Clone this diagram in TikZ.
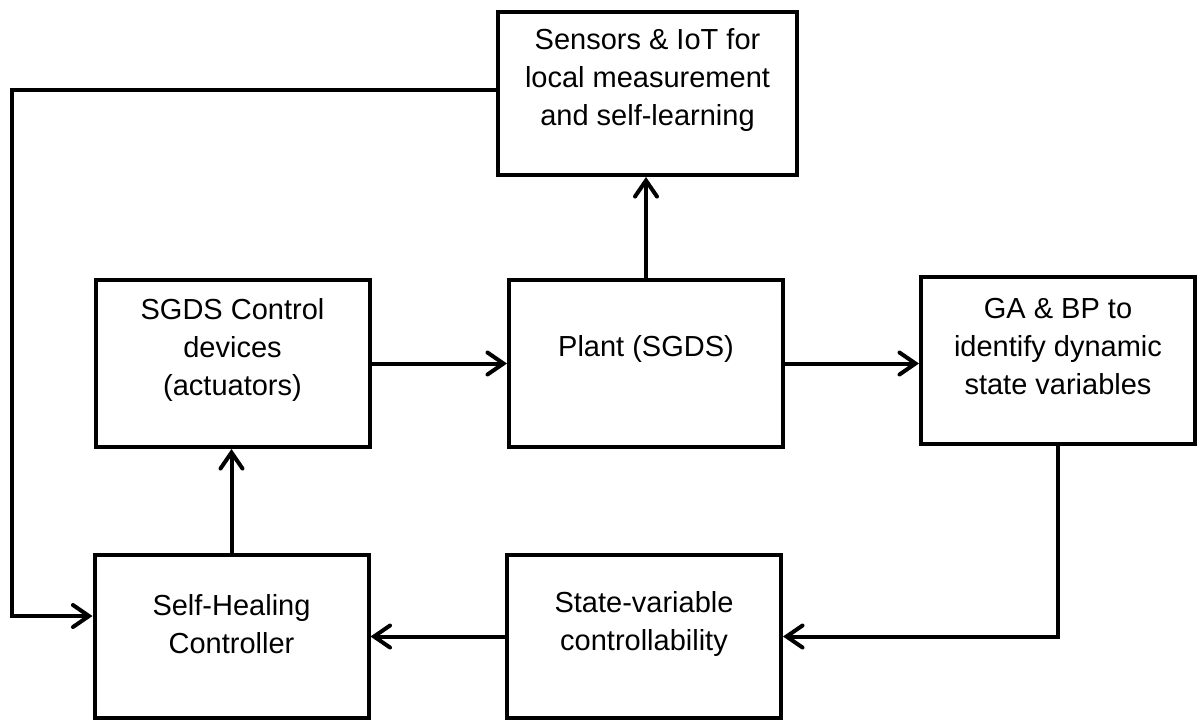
\documentclass[tikz,border=0pt]{standalone}
\usepackage{fontspec}
\setmainfont{Liberation Sans}
\usetikzlibrary{arrows.meta}

\begin{document}
\begin{tikzpicture}[x=0.5pt,y=-0.5pt,
    blok/.style={draw, line width=2pt, minimum width=137pt, minimum height=83.5pt, inner sep=0pt},
    lbl/.style={align=center, font=\fontsize{14.5}{19}\selectfont, inner sep=0pt},
    pijl/.style={line width=2pt, -{Straight Barb[length=8pt,width=11pt,line cap=round]}}]
  \useasboundingbox (0,0) rectangle (1200,720);
  % Sensors on top
  \node[blok, minimum width=149.5pt, minimum height=81.5pt] (sensors) at (647.5,93.5) {};
  \node[lbl] (sensorstxt) at (647.5,80) {Sensors \& IoT for\\local measurement\\and self-learning};
  % Middle row
  \node[blok] (control) at (232.5,363.5) {};
  \node[lbl] (controltxt) at (232.5,350) {SGDS Control\\devices\\(actuators)};
  \node[blok] (plant) at (646,363.5) {};
  \node[lbl] (planttxt) at (646,349) {Plant (SGDS)};
  \node[blok] (ga) at (1058,360.5) {};
  \node[lbl] (gatxt) at (1058,347) {GA \& BP to\\identify dynamic\\state variables};
  % Bottom row
  \node[blok, minimum height=81.5pt] (healer) at (231.5,636.5) {};
  \node[lbl] (healertxt) at (231.5,624) {Self-Healing\\Controller};
  \node[blok, minimum height=81.5pt] (state) at (644,636.5) {};
  \node[lbl] (statetxt) at (644,624) {State-variable\\controllability};
  % Connectors
  \coordinate (bend) at (12,90);
  \coordinate (feed) at ([yshift=10.25pt]healer.west);
  \draw[pijl] ([yshift=1.75pt]sensors.west) -- ([yshift=1.75pt]sensors.west -| bend) |- (feed);
  \draw[pijl] (plant.north) -- (plant.north |- sensors.south);
  \draw[pijl] (control.east) -- (plant.west);
  \draw[pijl] (plant.east) -- (plant.east -| ga.west);
  \draw[pijl] (ga.south) |- (state.east);
  \draw[pijl] (state.west) -- (healer.east);
  \draw[pijl] (healer.north) -- (healer.north |- control.south);
\end{tikzpicture}
\end{document}
